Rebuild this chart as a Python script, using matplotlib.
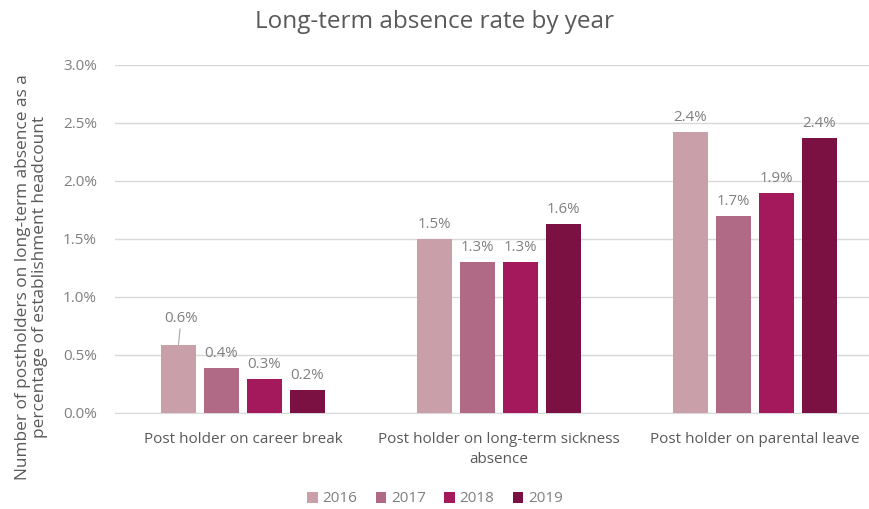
import numpy as np
import matplotlib
matplotlib.use("Agg")
import matplotlib.pyplot as plt
matplotlib.rcParams["font.family"] = ["Open Sans", "DejaVu Sans"]

categories = ["Post holder on career break",
              "Post holder on long-term sickness\nabsence",
              "Post holder on parental leave"]
years = ["2016", "2017", "2018", "2019"]
rate_2016 = [0.59, 1.50, 2.42]
rate_2017 = [0.39, 1.30, 1.70]
rate_2018 = [0.29, 1.30, 1.90]
rate_2019 = [0.20, 1.63, 2.37]
series = [rate_2016, rate_2017, rate_2018, rate_2019]
colors = ["#C9A0AA", "#B16A86", "#A3195B", "#7B1042"]

grey = "#7F7F7F"
fig = plt.figure(figsize=(8.7, 5.09), dpi=100)
ax = fig.add_axes([115/870, 96/509, 768/870, 348/509])

x = np.arange(len(categories))
step = 0.168
width = 0.135
for i, (vals, c, yr) in enumerate(zip(series, colors, years)):
    pos = x + (i - 1.5) * step
    ax.bar(pos, vals, width, color=c, label=yr, zorder=3)
    for j, (p, v) in enumerate(zip(pos, vals)):
        lab = f"{v:.1f}%"
        if i == 0 and j == 0:
            ax.annotate(lab, xy=(p, v), xytext=(p + 0.01, v + 0.16),
                        ha="center", va="bottom", fontsize=10.8, color=grey,
                        arrowprops=dict(arrowstyle="-", color="#A6A6A6", lw=0.8,
                                        shrinkA=0, shrinkB=0))
        else:
            ax.text(p, v + 0.06, lab, ha="center", va="bottom",
                    fontsize=10.8, color=grey)

ax.set_xlim(-0.5, 2.5)
ax.set_ylim(0, 3.0)
ax.set_yticks(np.arange(0, 3.01, 0.5))
ax.set_yticklabels([f"{t:.1f}%" for t in np.arange(0, 3.01, 0.5)])
ax.set_xticks(x)
ax.set_xticklabels(categories, fontsize=11, color="#595959", linespacing=1.45)
ax.tick_params(axis="y", length=0, labelsize=11, labelcolor=grey, pad=13)
ax.tick_params(axis="x", length=0, pad=14)
ax.yaxis.grid(True, color="#D9D9D9", lw=1, zorder=0)
for s in ["top", "right", "left"]:
    ax.spines[s].set_visible(False)
ax.spines["bottom"].set_color("#D9D9D9")

ax.set_ylabel("Number of postholders on long-term absence as a\npercentage of establishment headcount",
              fontsize=12.4, color="#595959", linespacing=1.1)
ax.yaxis.set_label_coords(-67/768, 0.39)

fig.text(0.5, 1 - 22/509, "Long-term absence rate by year", ha="center", va="center",
         fontsize=17.5, color="#595959")

fig.legend(loc="center", bbox_to_anchor=(0.5, 1 - 499/509), ncol=4, frameon=False,
           fontsize=11, labelcolor=grey, handlelength=0.7, handleheight=0.7,
           handletextpad=0.3, columnspacing=1.2)

fig.savefig("out.png", dpi=100)
